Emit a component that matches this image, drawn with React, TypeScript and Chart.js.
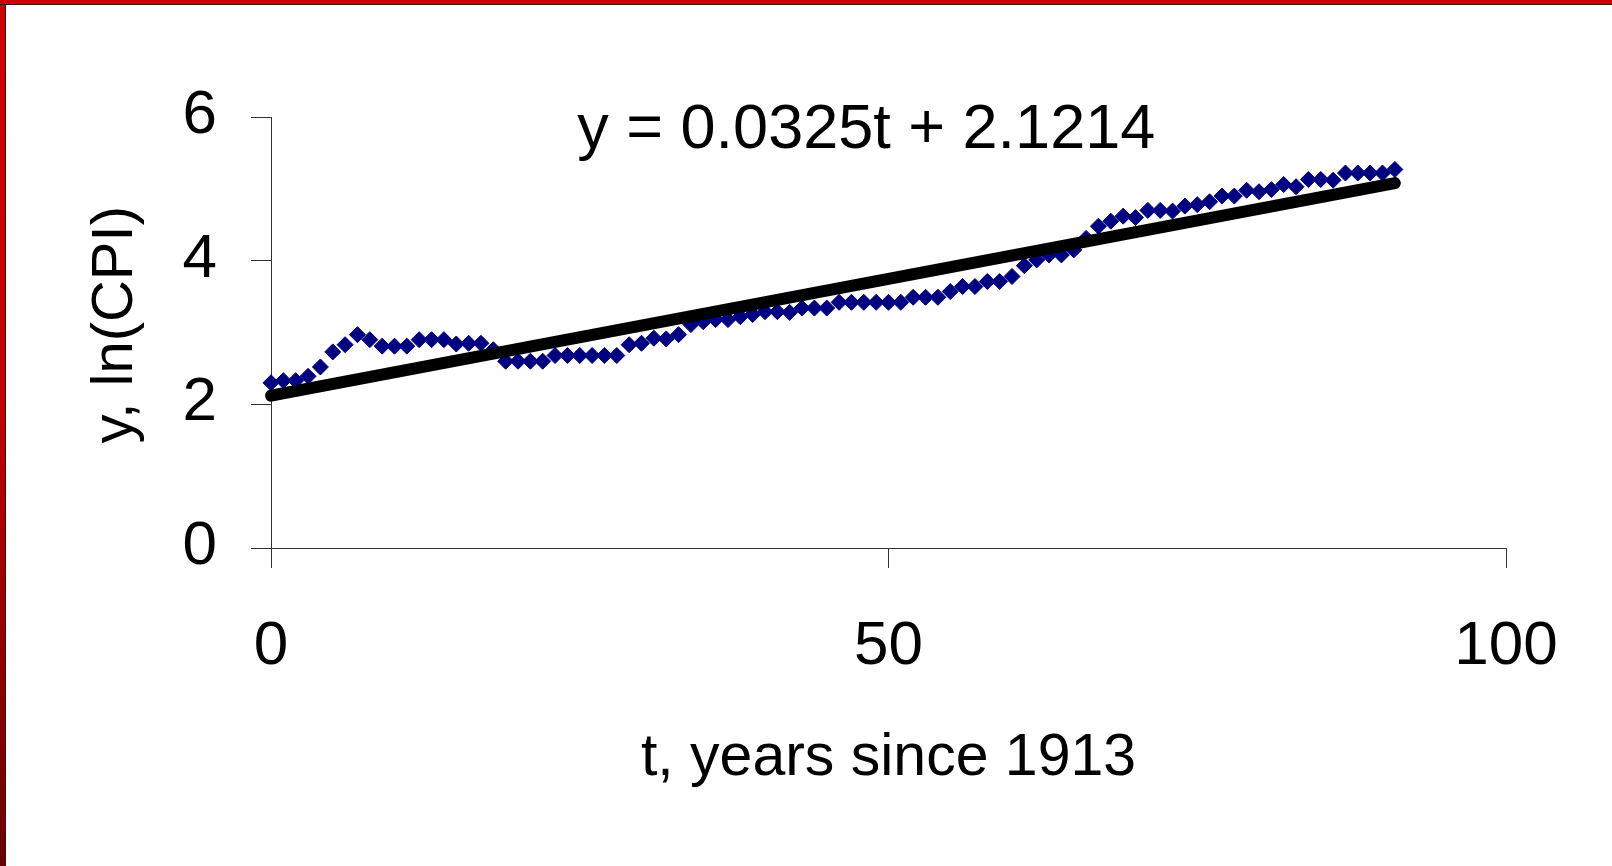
import React, { useEffect, useRef } from "react";
import { Chart, registerables } from "chart.js";

Chart.register(...registerables);

// t, years since 1913
const years = [
  0, 1, 2, 3, 4, 5, 6, 7, 8, 9, 10, 11, 12, 13, 14, 15, 16, 17, 18, 19,
  20, 21, 22, 23, 24, 25, 26, 27, 28, 29, 30, 31, 32, 33, 34, 35, 36, 37, 38, 39,
  40, 41, 42, 43, 44, 45, 46, 47, 48, 49, 50, 51, 52, 53, 54, 55, 56, 57, 58, 59,
  60, 61, 62, 63, 64, 65, 66, 67, 68, 69, 70, 71, 72, 73, 74, 75, 76, 77, 78, 79,
  80, 81, 82, 83, 84, 85, 86, 87, 88, 89, 90, 91,
];

// y, ln(CPI)
const lnCPI = [
  2.3, 2.33, 2.33, 2.39, 2.52, 2.73, 2.83, 2.97, 2.9, 2.81, 2.81, 2.81, 2.9, 2.9, 2.9, 2.84, 2.85, 2.85, 2.76, 2.6,
  2.6, 2.6, 2.6, 2.68, 2.68, 2.68, 2.68, 2.68, 2.68, 2.83, 2.85, 2.92, 2.91, 2.97, 3.11, 3.15, 3.18, 3.18, 3.22, 3.25,
  3.29, 3.29, 3.28, 3.34, 3.34, 3.34, 3.42, 3.42, 3.42, 3.42, 3.42, 3.42, 3.49, 3.49, 3.49, 3.57, 3.64, 3.64, 3.71, 3.71,
  3.78, 3.93, 4.01, 4.08, 4.08, 4.15, 4.31, 4.48, 4.55, 4.62, 4.6, 4.7, 4.7, 4.69, 4.76, 4.78, 4.82, 4.9, 4.9, 4.98,
  4.96, 4.99, 5.06, 5.03, 5.13, 5.13, 5.12, 5.22, 5.22, 5.22, 5.22, 5.27,
];

// Linear trend line end points (y = 0.0325t + 2.1214)
const trendT = [0, 91];
const trendY = [2.12, 5.08];

const xTicks = [0, 50, 100];
const yTicks = [0, 2, 4, 6];

const equationLabel = "y = 0.0325t + 2.1214";
const xTitle = "t, years since 1913";
const yTitle = "y, ln(CPI)";

const FONT = '"Liberation Sans", Arial, Helvetica, sans-serif';

export default function App() {
  const canvasRef = useRef<HTMLCanvasElement | null>(null);

  useEffect(() => {
    const canvas = canvasRef.current;
    if (!canvas) return;

    const textPlugin = {
      id: "extraText",
      afterDatasetsDraw(chart: any) {
        const { ctx, chartArea } = chart;
        ctx.save();
        ctx.fillStyle = "#000000";
        ctx.textAlign = "center";
        ctx.textBaseline = "middle";
        // regression equation
        ctx.font = `63px ${FONT}`;
        ctx.fillText(
          equationLabel,
          chartArea.left + (chartArea.right - chartArea.left) * 0.482,
          chartArea.top + 14
        );
        // y axis title
        ctx.font = `58px ${FONT}`;
        ctx.translate(116, chartArea.top + (chartArea.bottom - chartArea.top) * 0.482);
        ctx.rotate(-Math.PI / 2);
        ctx.fillText(yTitle, 0, 0);
        ctx.restore();
      },
    };

    const chart = new Chart(canvas, {
      type: "scatter",
      data: {
        datasets: [
          {
            type: "line",
            label: "trend",
            data: trendT.map((t, i) => ({ x: t, y: trendY[i] })),
            borderColor: "#000000",
            borderWidth: 12,
            borderCapStyle: "round",
            pointRadius: 0,
            fill: false,
            order: 0,
            clip: false,
          } as any,
          {
            type: "scatter",
            label: "ln(CPI)",
            data: years.map((t, i) => ({ x: t, y: lnCPI[i] })),
            pointStyle: "rectRot",
            pointRadius: 8,
            pointBackgroundColor: "#000080",
            pointBorderColor: "#000080",
            pointBorderWidth: 1,
            showLine: false,
            order: 1,
            clip: false,
          } as any,
        ],
      },
      options: {
        animation: false,
        responsive: false,
        maintainAspectRatio: false,
        layout: { padding: { top: 117, right: 106, left: 0, bottom: 0 } },
        plugins: {
          legend: { display: false },
          tooltip: { enabled: false },
        },
        scales: {
          x: {
            type: "linear",
            min: 0,
            max: 100,
            afterBuildTicks: (s: any) => {
              s.ticks = xTicks.map((v) => ({ value: v }));
            },
            afterFit: (s: any) => {
              s.height = 318;
            },
            grid: {
              drawOnChartArea: false,
              drawTicks: true,
              tickLength: 20,
              color: "#333333",
              lineWidth: 1,
            },
            border: { display: true, color: "#333333", width: 1 },
            ticks: {
              color: "#000000",
              font: { family: FONT, size: 62 },
              padding: 42,
              maxRotation: 0,
              autoSkip: false,
            },
            title: {
              display: true,
              text: xTitle,
              color: "#000000",
              font: { family: FONT, size: 59 },
              padding: { top: 0, bottom: 72 },
            },
          },
          y: {
            type: "linear",
            min: 0,
            max: 6,
            afterBuildTicks: (s: any) => {
              s.ticks = yTicks.map((v) => ({ value: v }));
            },
            afterFit: (s: any) => {
              s.width = 271;
            },
            grid: {
              drawOnChartArea: false,
              drawTicks: true,
              tickLength: 20,
              color: "#333333",
              lineWidth: 1,
            },
            border: { display: true, color: "#333333", width: 1 },
            ticks: {
              color: "#000000",
              font: { family: FONT, size: 62 },
              padding: 34,
              labelOffset: -1,
              autoSkip: false,
            },
            title: { display: false },
          },
        },
      },
      plugins: [textPlugin],
    } as any);

    return () => {
      chart.destroy();
    };
  }, []);

  return (
    <div
      style={{
        position: "fixed",
        left: 0,
        top: 0,
        width: 1612,
        height: 866,
        background: "#ffffff",
        overflow: "hidden",
      }}
    >
      <div
        style={{
          position: "absolute",
          left: 0,
          top: 0,
          width: 5,
          height: 866,
          background: "linear-gradient(to bottom, #d40000 0%, #c80000 45%, #6a0000 100%)",
          borderRight: "1px solid #3a1010",
        }}
      />
      <div
        style={{
          position: "absolute",
          left: 0,
          top: 0,
          width: 1612,
          height: 4,
          background: "#d00000",
          borderBottom: "1px solid #3a1010",
        }}
      />
      <canvas
        ref={canvasRef}
        width={1612}
        height={866}
        style={{ position: "absolute", left: 0, top: 0, width: 1612, height: 866 }}
      />
    </div>
  );
}
